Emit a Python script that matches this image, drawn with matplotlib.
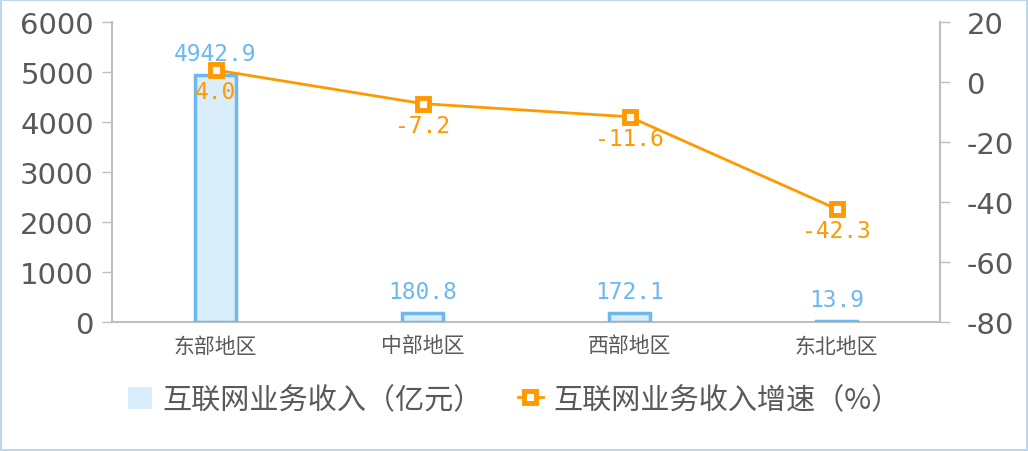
import matplotlib.pyplot as plt
from matplotlib.patches import Patch
from matplotlib.lines import Line2D
import numpy as np

plt.rcParams['font.family'] = ['Noto Sans CJK SC', 'DejaVu Sans']
plt.rcParams['axes.unicode_minus'] = False

regions = ['东部地区', '中部地区', '西部地区', '东北地区']
income = [4942.9, 180.8, 172.1, 13.9]
growth = [4.0, -7.2, -11.6, -42.3]

gray = '#595959'
spine = '#BFBFBF'
blue = '#6CB8F0'
orange = '#FF9900'

fig = plt.figure(figsize=(10.28, 4.52), dpi=100)
ax = fig.add_axes([112/1028, 1 - 323/452, 828/1028, 300/452])
x = np.arange(len(regions))

ax.bar(x, income, width=0.2, color='#DAEDFB', edgecolor=blue, linewidth=2.5, zorder=3)
ax.set_xlim(-0.5, 3.5)
ax.set_ylim(0, 6000)
ax.set_yticks(np.arange(0, 6001, 1000))
ax.set_xticks(x)
ax.set_xticklabels(regions, fontsize=15, color=gray)
ax.tick_params(axis='y', labelsize=21, colors=gray, length=7, width=1, color=spine, pad=6)
ax.tick_params(axis='x', length=0, pad=9)
for lab in ax.get_yticklabels():
    lab.set_family('DejaVu Sans')
for s in ['top', 'right']:
    ax.spines[s].set_visible(False)
for s in ['left', 'bottom']:
    ax.spines[s].set_color(spine)
    ax.spines[s].set_linewidth(1.5)

for xi, v in zip(x, income):
    ax.text(xi, v + 200, f'{v}', ha='center', va='bottom', fontsize=16.5,
            color=blue, family='DejaVu Sans Mono')

ax2 = ax.twinx()
ax2.plot(x, growth, color=orange, linewidth=2, marker='s', markersize=9,
         markerfacecolor='white', markeredgecolor=orange, markeredgewidth=3.5)
ax2.set_ylim(-80, 20)
ax2.set_yticks(np.arange(-80, 21, 20))
ax2.tick_params(axis='y', labelsize=21, colors=gray, length=7, width=1, color=spine, pad=12)
for lab in ax2.get_yticklabels():
    lab.set_family('DejaVu Sans')
for s in ['top', 'left', 'bottom']:
    ax2.spines[s].set_visible(False)
ax2.spines['right'].set_color(spine)
ax2.spines['right'].set_linewidth(1.5)

for xi, v in zip(x, growth):
    ax2.text(xi, v - 3.5, f'{v}', ha='center', va='top', fontsize=16.5,
             color=orange, family='DejaVu Sans Mono')

handles = [Patch(facecolor='#DAEDFB', edgecolor='none'),
           Line2D([], [], color=orange, linewidth=2, marker='s', markersize=9,
                  markerfacecolor='white', markeredgecolor=orange, markeredgewidth=3.5)]
labels = ['互联网业务收入（亿元）', '互联网业务收入增速（%）']
fig.legend(handles, labels, loc='center', bbox_to_anchor=(0.5, 1 - 401/452),
           ncol=2, frameon=False, fontsize=21, labelcolor=gray,
           handlelength=0.85, handleheight=0.8, handletextpad=0.35, columnspacing=1.2)

fig.patches.append(plt.Rectangle((0.001, 0.002), 0.998, 0.996, transform=fig.transFigure,
                                 fill=False, edgecolor='#BDD7EE', linewidth=1.5))

fig.savefig('out.png', dpi=100)
